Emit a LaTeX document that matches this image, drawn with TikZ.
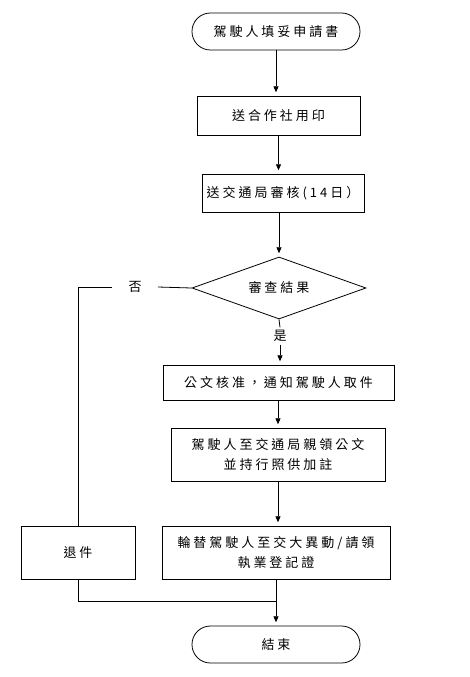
\documentclass[tikz,border=0pt]{standalone}
\usepackage{fontspec}
\newfontfamily\cjk[LetterSpace=23]{Noto Sans CJK TC}
\usetikzlibrary{shapes.geometric,arrows.meta}
\tikzset{
  every node/.style={font=\cjk\fontsize{9.75pt}{14.6pt}\selectfont},
  line/.style={line width=0.6pt},
  arr/.style={line,-{Triangle[length=4.5pt,width=3.8pt]},shorten >=2.5pt},
  box/.style={draw,line,rectangle,align=center,inner sep=0pt},
  term/.style={box,rounded corners=13.8pt,minimum width=126pt,minimum height=27.75pt},
  test/.style={draw,line,diamond,aspect=2.8,inner sep=0pt,minimum width=130.5pt,minimum height=46.5pt}
}
\begin{document}
\begin{tikzpicture}[x=0.75pt,y=-0.75pt]
  \useasboundingbox (0,0) rectangle (470,677);
  % main column
  \node[term] (start) at (276,31.5) {駕駛人填妥申請書};
  \node[box,minimum width=122.25pt,minimum height=29.25pt] (seal) at (278.5,115.5) {送合作社用印};
  \node[box,minimum width=121.5pt,minimum height=28.5pt] (audit) at (283,193) {送交通局審核(14日）};
  \node[test] (check) at (279,288) {審查結果};
  \node[inner sep=2pt] (yes) at (280,336) {是};
  \node[box,minimum width=173.25pt,minimum height=26.25pt] (notify) at (278.5,382.5) {公文核准，通知駕駛人取件};
  \node[box,minimum width=160.5pt,minimum height=39.75pt] (fetch) at (278,454.5) {駕駛人至交通局親領公文\\並持行照供加註};
  \node[box,minimum width=171pt,minimum height=39.75pt] (reg) at (276,552.5) {輪替駕駛人至交大異動/請領\\執業登記證};
  \node[term] (end) at (276,644.5) {結束};
  % reject branch
  \node[inner xsep=12pt,inner ysep=2pt] (no) at (135,287) {否};
  \node[box,minimum width=85.5pt,minimum height=39.75pt] (back) at (78,552.5) {退件};
  \coordinate (join) at (276,601);

  \draw[arr] (start.south) -- (start.south |- seal.north);
  \draw[arr] (seal.south) -- (seal.south |- audit.north);
  \draw[arr] (check.north |- audit.south) -- (check.north);
  \draw[line] (check.south) -- (yes.north);
  \draw[arr] (yes.south) -- (yes.south |- notify.north);
  \draw[arr] (fetch.north |- notify.south) -- (fetch.north);
  \draw[arr] (fetch.south) -- (fetch.south |- reg.north);
  \draw[arr] (reg.south) -- (end.north);
  \draw[line] (check.west) -- (no.east);
  \draw[line] (no.west) -| (back.north);
  \draw[line] (back.south) |- (join);
\end{tikzpicture}
\end{document}
